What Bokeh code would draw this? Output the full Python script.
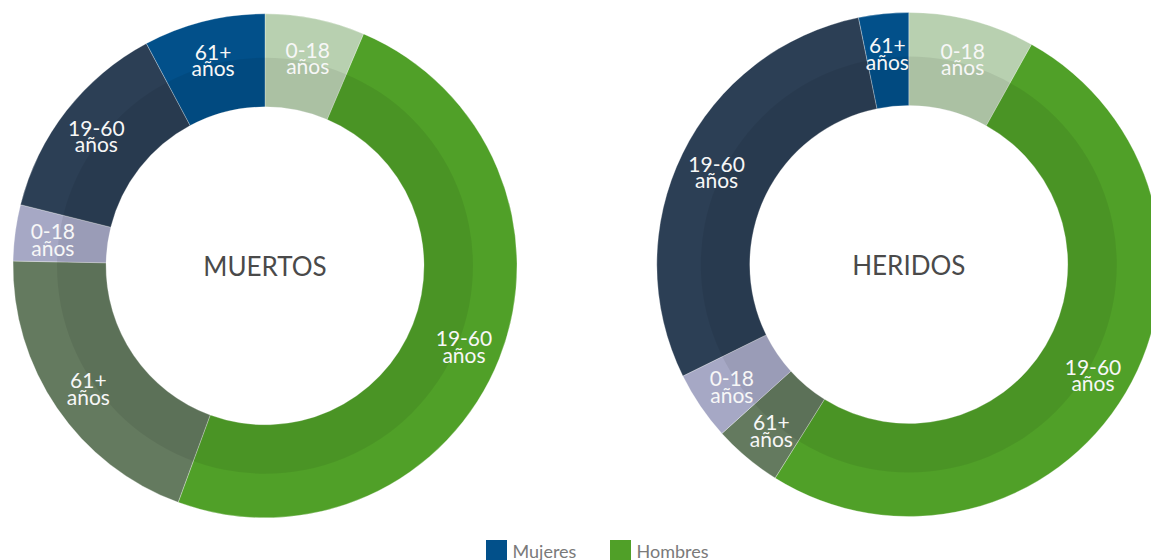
import math
from bokeh.plotting import figure
from bokeh.models import Range1d, ColumnDataSource
from bokeh.core.properties import value
from bokeh.embed import file_html
from bokeh.resources import INLINE

# ---- data ----
segments = ["Hombres 0-18", "Hombres 19-60", "Hombres 61+",
            "Mujeres 0-18", "Mujeres 19-60", "Mujeres 61+"]
age_labels = ["0-18", "19-60", "61+", "0-18", "19-60", "61+"]
muertos = [6.4, 49.2, 19.7, 3.6, 13.3, 7.8]
heridos = [8.1, 50.8, 4.4, 4.4, 29.1, 3.2]
titles = ["MUERTOS", "HERIDOS"]
legend_names = ["Mujeres", "Hombres"]

colors = ["#b8d0b0", "#50a028", "#647a5f", "#a6a8c5", "#2c3f55", "#02508a"]
legend_colors = ["#02508a", "#50a028"]

W, H = 1151, 560
p = figure(width=W, height=H, output_backend="svg", toolbar_location=None,
           x_range=Range1d(0, W), y_range=Range1d(0, H),
           min_border=0, outline_line_color=None)
p.axis.visible = False
p.grid.visible = False
p.background_fill_color = "white"

R_IN, R_MID, R_OUT = 159, 208, 252
FONT = value("Lato")

def donut(cx, cy, vals, title):
    total = sum(vals)
    starts, ends, mids = [], [], []
    acc = 0.0
    for v in vals:
        a0 = acc / total * 360.0
        acc += v
        a1 = acc / total * 360.0
        starts.append(math.radians(90 - a0))
        ends.append(math.radians(90 - a1))
        mids.append((a0 + a1) / 2)
    src = ColumnDataSource(dict(start=starts, end=ends, color=colors))
    p.annular_wedge(x=cx, y=cy, inner_radius=R_IN, outer_radius=R_OUT,
                    start_angle="start", end_angle="end", direction="clock",
                    fill_color="color", line_color="white", line_alpha=0.5,
                    line_width=0.6, source=src)
    p.annulus(x=cx, y=cy, inner_radius=R_IN, outer_radius=R_MID,
              fill_color="black", fill_alpha=0.07, line_color=None)
    rl = 214
    lx = [cx + rl * math.sin(math.radians(m)) for m in mids]
    ly = [cy + rl * math.cos(math.radians(m)) + 6 for m in mids]
    p.text(x=lx, y=ly, text=age_labels, text_font=FONT, text_font_size="21px",
           text_color="#f7f7f7", text_align="center", text_baseline="alphabetic")
    p.text(x=lx, y=[v - 15.5 for v in ly], text=["años"] * len(lx), text_font=FONT,
           text_font_size="21px", text_color="#f7f7f7", text_align="center",
           text_baseline="alphabetic")
    p.text(x=[cx], y=[cy], text=[title], text_font=FONT, text_font_size="26px",
           text_color="#4a4a4a", text_align="center", text_baseline="middle")

donut(264.5, H - 265.3, muertos, titles[0])
donut(908.3, H - 264.0, heridos, titles[1])

# legend
lg_x = [496, 620]
lg_y = H - 550.0
p.rect(x=lg_x, y=[lg_y, lg_y], width=21, height=21, fill_color=legend_colors,
       line_color=None)
p.text(x=[v + 16 for v in lg_x], y=[lg_y, lg_y], text=legend_names, text_font=FONT,
       text_font_size="18px", text_color="#7a7a7a", text_align="left",
       text_baseline="middle")

open("out.html", "w").write(file_html(p, INLINE))
